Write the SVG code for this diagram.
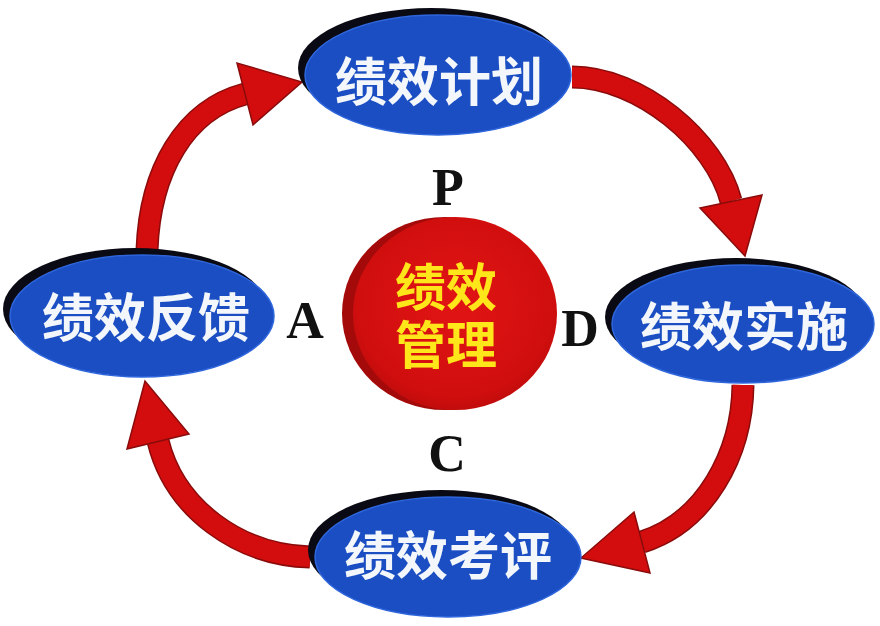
<svg xmlns="http://www.w3.org/2000/svg" width="880" height="626" viewBox="0 0 880 626">
  <defs>
    <radialGradient id="redFace" cx="0.5" cy="0.45" r="0.6">
      <stop offset="0" stop-color="#e21414"/>
      <stop offset="0.8" stop-color="#d00e0e"/>
      <stop offset="1" stop-color="#b80a0a"/>
    </radialGradient>
  </defs>
  <style>
    .shaft-out { fill: none; stroke: #8a0b0b; stroke-width: 23; }
    .shaft { fill: none; stroke: #d30d0d; stroke-width: 20; }
    .head { fill: #d30d0d; stroke: #8a0b0b; stroke-width: 1.5; stroke-linejoin: miter; }
    .shadow { fill: #0a0a14; }
    .blue { fill: #1b4ec2; stroke: #2f66dc; stroke-width: 1.5; }
    .label { font-family: "Noto Sans CJK SC", "Noto Sans", sans-serif; font-weight: 700; font-size: 52px; fill: #f3f7fb; text-anchor: middle; dominant-baseline: central; }
    .center-label { font-family: "Liberation Sans", "Noto Sans CJK SC", sans-serif; font-weight: 700; font-size: 51px; fill: #ffe61a; text-anchor: middle; }
    .letter { font-family: "Liberation Serif", "Times New Roman", serif; font-weight: 700; font-size: 52px; fill: #111; text-anchor: middle; }
  </style>
  <rect width="880" height="626" fill="#ffffff"/>

  <g id="connectors">
    <g id="arrow-plan-do">
      <path class="shaft-out" d="M572,77 C640,77 715,140 731,201"/>
      <path class="shaft" d="M572,77 C640,77 715,140 731,201"/>
      <polygon class="head" points="700,208 762,195 745,256"/>
    </g>
    <g id="arrow-do-check">
      <path class="shaft-out" d="M743,385 C742,455 705,522 642,542"/>
      <path class="shaft" d="M743,385 C742,455 705,522 642,542"/>
      <polygon class="head" points="634,512 650,573 581,558"/>
    </g>
    <g id="arrow-check-act">
      <path class="shaft-out" d="M310,557 C240,555 175,510 158,441"/>
      <path class="shaft" d="M310,557 C240,555 175,510 158,441"/>
      <polygon class="head" points="127,449 189,434 145,381"/>
    </g>
    <g id="arrow-act-plan">
      <path class="shaft-out" d="M147,250 C150,170 185,110 245,94"/>
      <path class="shaft" d="M147,250 C150,170 185,110 245,94"/>
      <polygon class="head" points="237,63 253,125 302,82"/>
    </g>
  </g>

  <g id="node-plan">
    <ellipse class="shadow" cx="431" cy="68" rx="133" ry="60"/>
    <ellipse class="blue" cx="438" cy="75" rx="133" ry="60"/>
    <text class="label" x="439" y="78">绩效计划</text>
  </g>

  <g id="node-do">
    <ellipse class="shadow" cx="736" cy="317" rx="131" ry="59"/>
    <ellipse class="blue" cx="743" cy="324" rx="131" ry="59"/>
    <text class="label" x="744" y="323">绩效实施</text>
  </g>

  <g id="node-check">
    <ellipse class="shadow" cx="441" cy="550" rx="133" ry="60"/>
    <ellipse class="blue" cx="448" cy="557" rx="133" ry="60"/>
    <text class="label" x="448" y="552">绩效考评</text>
  </g>

  <g id="node-act">
    <ellipse class="shadow" cx="135" cy="309" rx="132" ry="61"/>
    <ellipse class="blue" cx="142" cy="316" rx="132" ry="61"/>
    <text class="label" x="146" y="314">绩效反馈</text>
  </g>

  <g id="node-center">
    <ellipse cx="445" cy="313.5" rx="103" ry="96.5" fill="#a50a0a"/>
    <ellipse cx="455" cy="313.5" rx="102" ry="96.5" fill="url(#redFace)"/>
    <text class="center-label" x="446" y="306">绩效</text>
    <text class="center-label" x="446" y="364">管理</text>
  </g>

  <g id="pdca-letters">
    <text class="letter" x="448" y="205">P</text>
    <text class="letter" x="305" y="338">A</text>
    <text class="letter" x="580" y="346">D</text>
    <text class="letter" x="447" y="471">C</text>
  </g>
</svg>
